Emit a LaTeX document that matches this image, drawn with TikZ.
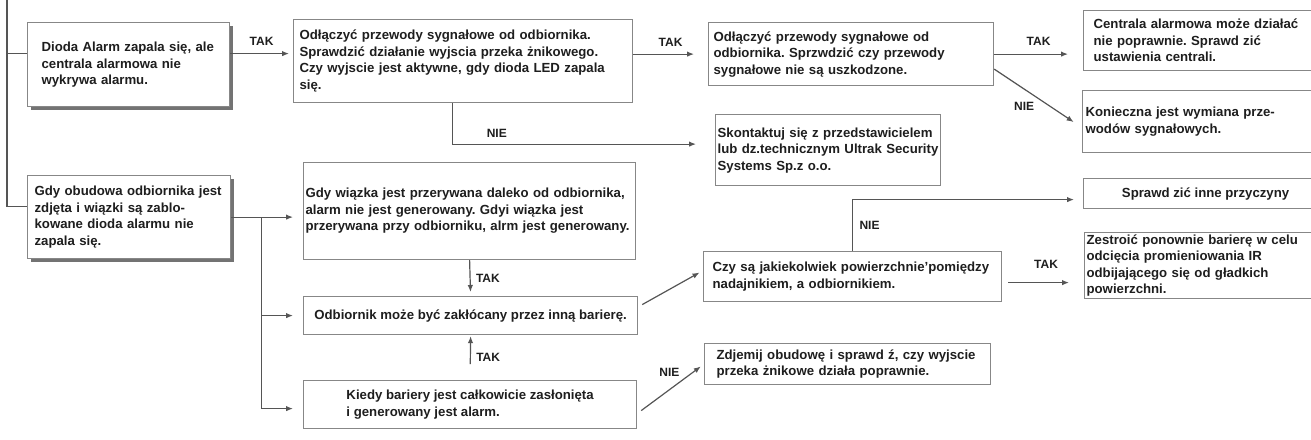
\documentclass[tikz,border=0pt]{standalone}
\usepackage{fontspec}
\setmainfont{Liberation Sans}
\usepackage{xcolor}
\usetikzlibrary{positioning, shadows, arrows.meta}

\definecolor{linegray}{RGB}{85,85,85}
\definecolor{framegray}{RGB}{135,135,135}
\definecolor{inkgray}{RGB}{30,30,30}

\frenchspacing
\begin{document}
\begin{tikzpicture}[x=1pt,y=-1pt,>={Latex[length=7pt,width=5.5pt]}]
\tikzstyle{box}=[draw=framegray,line width=1.2pt,fill=white,text=inkgray,anchor=north west,align=left,inner ysep=3pt,font=\fontsize{13.2}{16.5}\selectfont\bfseries]
\tikzstyle{flow}=[draw=linegray,line width=1.2pt,->,shorten >=4pt]
\tikzstyle{tag}=[text=inkgray,font=\fontsize{12}{14}\selectfont\bfseries]
\tikzstyle{shadowed}=[drop shadow={shadow xshift=3pt,shadow yshift=-3pt,fill=black!55,opacity=1}]

\path[use as bounding box,fill=white] (0,0) rectangle (1311,439);

% column 1
\node[box,shadowed,inner xsep=14pt,text width=174pt,minimum height=84pt] (alarm) at (27,22) {Dioda Alarm zapala się, ale\\centrala alarmowa nie\\wykrywa alarmu.};
\node[box,shadowed,inner xsep=7pt,text width=189pt,minimum height=83pt] (obudowa) at (27,175) {Gdy obudowa odbiornika jest\\zdjęta i wiązki są zablo-\\kowane dioda alarmu nie\\zapala się.};

% column 2
\node[box,inner xsep=6pt,text width=327pt,minimum height=83pt] (odlacz) at (293,19) {Odłączyć przewody sygnałowe od odbiornika.\\Sprawdzić działanie wyjscia przeka żnikowego.\\Czy wyjscie jest aktywne, gdy dioda LED zapala\\się.};
\node[box,inner xsep=2pt,text width=328pt,minimum height=97pt] (wiazka) at (303,162) {Gdy wiązka jest przerywana daleko od odbiornika,\\alarm nie jest generowany. Gdyi wiązka jest\\przerywana przy odbiorniku, alrm jest generowany.};
\node[box,minimum width=334pt,minimum height=38pt] (zaklocenie) at (303,296) {Odbiornik może być zakłócany przez inną barierę.};
\node[box,minimum width=333pt,minimum height=48pt] (zaslona) at (303,380) {Kiedy bariery jest całkowicie zasłonięta\\i generowany jest alarm.};

% column 3
\node[box,inner xsep=5pt,text width=275pt,minimum height=63pt] (przewody) at (708,22) {Odłączyć przewody sygnałowe od\\odbiornika. Sprzwdzić czy przewody\\sygnałowe nie są uszkodzone.};
\node[box,inner xsep=2pt,text width=221pt,minimum height=71pt] (kontakt) at (715,114) {Skontaktuj się z przedstawicielem\\lub dz.technicznym Ultrak Security\\Systems Sp.z o.o.};
\node[box,inner xsep=9pt,text width=280pt,minimum height=50pt] (powierzchnie) at (703,251) {Czy są jakiekolwiek powierzchnie'pomiędzy\\nadajnikiem, a odbiornikiem.};
\node[box,inner xsep=12pt,text width=262pt,minimum height=41pt] (zdejmij) at (704,343) {Zdjemij obudowę i sprawd ź, czy wyjscie\\przeka żnikowe działa poprawnie.};

% column 4
\node[box,inner xsep=10pt,text width=222pt,minimum height=60pt] (centrala) at (1083,10) {Centrala alarmowa może działać\\nie poprawnie. Sprawd zić\\ustawienia centrali.};
\node[box,inner xsep=3pt,text width=236pt,minimum height=62pt] (wymiana) at (1082,90) {Konieczna jest wymiana prze-\\wodów sygnałowych.};
\node[box,minimum width=244pt,minimum height=30pt] (inne) at (1083,178) {Sprawd zić inne przyczyny};
\node[box,inner xsep=2pt,inner ysep=2pt,text width=238pt,minimum height=66pt] (zestroj) at (1084,232) {Zestroić ponownie barierę w celu\\odcięcia promieniowania IR\\odbijającego się od gładkich\\powierzchni.};

% connectors
\coordinate (root) at (7,0);
\coordinate (fork) at ([xshift=30pt]obudowa.east);
\draw[linegray,line width=1.2pt] (root) |- ([yshift=11pt]alarm.west);
\draw[linegray,line width=1.2pt] (root) |- ([yshift=11pt]obudowa.west);

\draw[flow] ([yshift=11pt]alarm.east) -- ([yshift=11pt]alarm.east -| odlacz.west) node[tag,midway,above=4pt] {TAK};
\draw[flow,shorten >=14pt] (odlacz.east |- przewody.west) -- (przewody.west) node[tag,midway,above=4pt] {TAK};
\draw[flow,shorten >=19pt] ([xshift=-11pt]odlacz.south) |- ([yshift=6pt]kontakt.west) node[tag,pos=0.585,above=3pt] {NIE};
\draw[flow,shorten >=15pt] (przewody.east) -- (przewody.east -| centrala.west) node[tag,midway,above=5pt] {TAK};
\draw[flow,shorten >=10pt] ([yshift=-15pt]przewody.east) -- ([yshift=-6pt]wymiana.west) node[tag,midway,below left] {NIE};

\draw[flow,shorten >=10pt] (obudowa.east) -- (obudowa.east -| wiazka.west);
\draw[flow,shorten >=10pt] (fork) |- (zaklocenie.west);
\draw[flow,shorten >=10pt] (fork) |- ([yshift=-4pt]zaslona.west);

\draw[flow] (wiazka.south) -- (zaklocenie.north) node[tag,midway,right=2pt] {TAK};
\draw[flow,shorten <=16pt,shorten >=1pt] (zaslona.north) -- (zaklocenie.south) node[tag,midway,right=2pt] {TAK};
\draw[flow] ([shift={(4pt,11pt)}]zaklocenie.east) -- ([yshift=6pt]powierzchnie.west);
\draw[flow] ([shift={(4pt,-6pt)}]zaslona.east) -- (zdejmij.west) node[tag,pos=0.45,above=9pt] {NIE};

\draw[flow,shorten >=9pt] (powierzchnie.north) |- ([yshift=-6pt]inne.west) node[tag,pos=0.25,right=3pt] {NIE};
\draw[flow,shorten >=15pt] ([shift={(6pt,-6pt)}]powierzchnie.east) -- ([yshift=-6pt]powierzchnie.east -| zestroj.west) node[tag,midway,above=10pt] {TAK};
\end{tikzpicture}
\end{document}
